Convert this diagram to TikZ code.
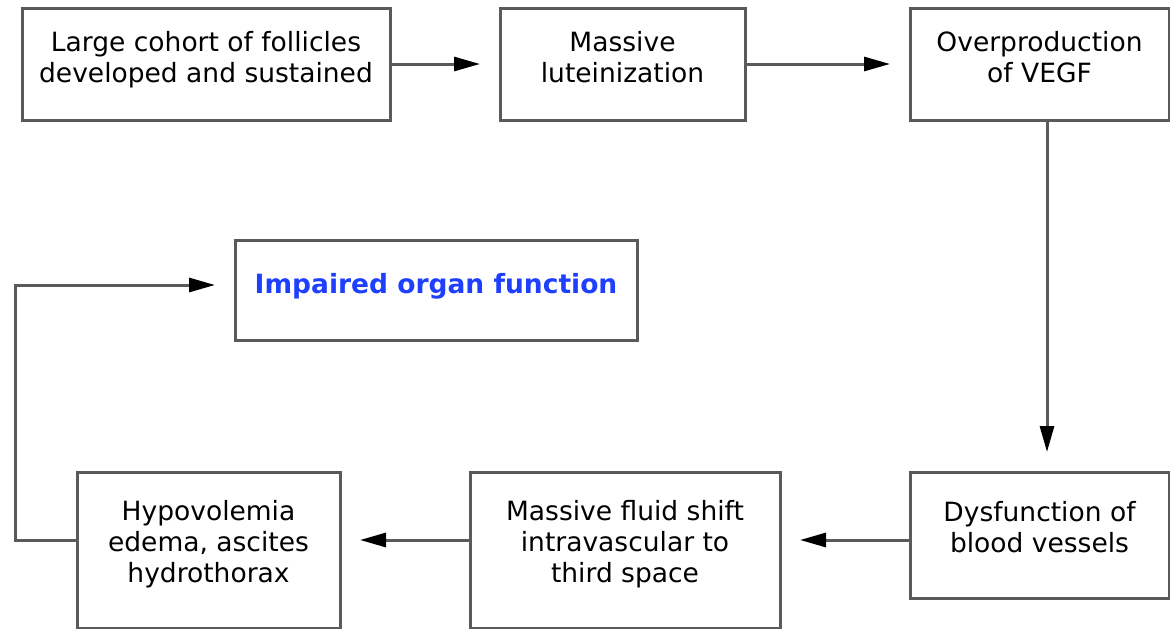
\documentclass[tikz,border=0pt]{standalone}
\usepackage{fontspec}
\setmainfont{DejaVu Sans}
\usetikzlibrary{positioning,arrows.meta}
\definecolor{linegray}{HTML}{5A5A5A}
\definecolor{titleblue}{HTML}{1F3FFF}
\begin{document}
\begin{tikzpicture}[x=1pt, y=-1pt,
    flow/.style={->, draw=linegray, line width=3pt, shorten >=20pt, >={Triangle[length=26pt,width=14pt,color=black]}},
    box/.style={rectangle, draw=linegray, line width=3pt, outer sep=0pt, align=center, inner sep=0pt, font=\fontsize{26.5}{31}\selectfont}]
    \useasboundingbox (0,0) rectangle (1170,629);

    \node[box, minimum width=368pt, minimum height=112pt] (follicles) at (206,64) {Large cohort of follicles\\developed and sustained\\[-16pt]};
    \node[box, minimum width=245pt, minimum height=112pt] (lutein) [right=110pt of follicles] {Massive\\luteinization\\[-16pt]};
    \node[box, minimum width=259pt, minimum height=112pt] (vegf) [right=165pt of lutein] {Overproduction\\of VEGF\\[-16pt]};
    \node[box, minimum width=259pt, minimum height=126pt] (vessels) [below=352pt of vegf] {Dysfunction of\\blood vessels\\[-14pt]};
    \node[box, minimum width=310pt, minimum height=156pt] (shift) [left=130pt of vessels.north west, anchor=north east] {Massive fluid shift\\intravascular to\\third space\\[-14pt]};
    \node[box, minimum width=263pt, minimum height=156pt] (hypo) [left=130pt of shift.north west, anchor=north east] {Hypovolemia\\edema, ascites\\hydrothorax\\[-14pt]};
    \node[box, minimum width=402pt, minimum height=100pt, text=titleblue, font=\fontsize{26.5}{31}\selectfont\bfseries] (organ) at (436,290) {Impaired organ function\\[-18pt]};

    \coordinate (row) at (0,540);
    \coordinate (down) at (1047,0);
    \coordinate (turn) at (15,285);

    \draw[flow] (follicles.east) -- (lutein.west);
    \draw[flow] (lutein.east) -- (vegf.west);
    \draw[flow] (vegf.south -| down) -- (vessels.north -| down);
    \draw[flow] (vessels.west |- row) -- (shift.east |- row);
    \draw[flow] (shift.west |- row) -- (hypo.east |- row);
    \draw[flow] (hypo.west |- row) -| (turn) -- (organ.west |- turn);
\end{tikzpicture}
\end{document}
